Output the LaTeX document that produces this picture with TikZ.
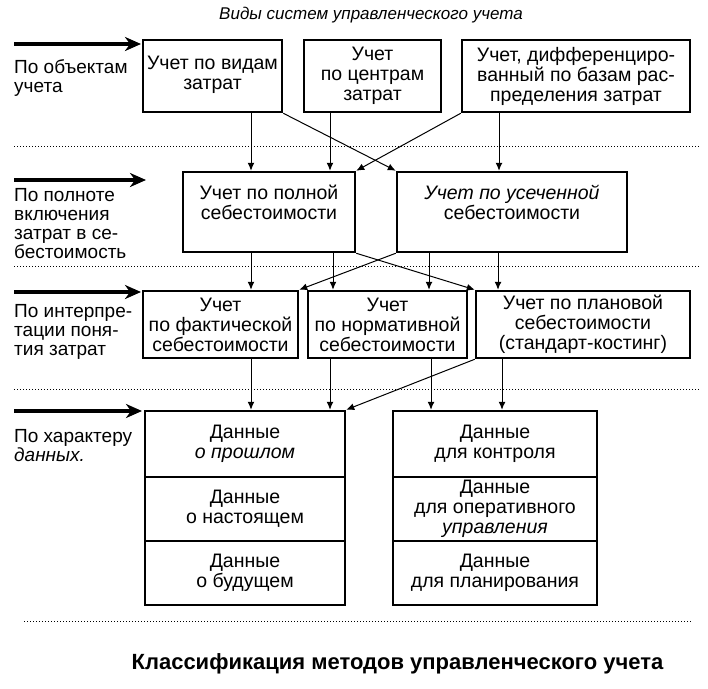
\documentclass[tikz,border=0pt]{standalone}
\usepackage{fontspec}
\setmainfont{Liberation Sans}
\usetikzlibrary{arrows.meta}
\begin{document}
\begin{tikzpicture}[x=1pt,y=-1pt,
  box/.style={draw, line width=2.5pt, align=center, inner sep=0pt,
    font=\fontsize{19.5}{20}\selectfont},
  lbl/.style={align=left, inner sep=0pt, anchor=north west,
    font=\fontsize{19}{19}\selectfont},
  conn/.style={line width=1pt, -{Latex[length=8pt,width=7pt]}},
  bigarrow/.style={line width=3.5pt, -{Stealth[length=16pt,width=14pt,inset=5pt]}},
  sep/.style={line width=1pt, dash pattern=on 1pt off 2pt}]
\useasboundingbox (0,0) rectangle (708,688);

% title
\node[font=\fontsize{17}{20}\selectfont\itshape, inner sep=0pt] (title) at (371,15) {Виды систем управленческого учета};

% row 1
\node[box, minimum width=139pt, minimum height=72pt] (B1) at (212.5,76) {Учет по видам\\затрат\\[-14pt]\mbox{}};
\node[box, minimum width=137pt, minimum height=72pt] (B2) at (372.5,76) {Учет\\по центрам\\затрат};
\node[box, minimum width=228pt, minimum height=72pt] (B3) at (576,76) {Учет, дифференциро-\\ванный по базам рас-\\пределения затрат};

% row 2
\node[box, minimum width=172pt, minimum height=80pt] (C1) at (269,212) {Учет по полной\\себестоимости\\\mbox{}};
\node[box, minimum width=230pt, minimum height=80pt] (C2) at (512,212) {\textit{Учет по усеченной}\\себестоимости\\\mbox{}};

% row 3
\node[box, minimum width=155pt, minimum height=67pt] (D1) at (220.5,324.5) {Учет\\по фактической\\себестоимости};
\node[box, minimum width=159pt, minimum height=67pt] (D2) at (387.5,324.5) {Учет\\по нормативной\\себестоимости};
\node[box, minimum width=214pt, minimum height=67pt] (D3) at (583,324.5) {Учет по плановой\\себестоимости\\(стандарт-костинг)};

% row 4
\node[box, minimum width=200pt, minimum height=66pt] (E1a) at (245,444) {Данные\\\textit{о прошлом}};
\node[box, minimum width=200pt, minimum height=64pt] (E1b) at (245,509) {Данные\\о настоящем};
\node[box, minimum width=200pt, minimum height=64pt] (E1c) at (245,573) {Данные\\о будущем};
\node[box, minimum width=204pt, minimum height=66pt] (E2a) at (495,444) {Данные\\для контроля};
\node[box, minimum width=204pt, minimum height=64pt] (E2b) at (495,509) {Данные\\для оперативного\\\textit{управления}};
\node[box, minimum width=204pt, minimum height=64pt] (E2c) at (495,573) {Данные\\для планирования};

% left labels
\node[lbl] (L1) at (14,59) {По объектам\\учета};
\node[lbl] (L2) at (14,188) {По полноте\\включения\\затрат в се-\\бестоимость};
\node[lbl] (L3) at (14,304) {По интерпре-\\тации поня-\\тия затрат};
\node[lbl] (L4) at (14,429) {По характеру\\\textit{данных.}};

% big arrows
\coordinate (a1) at (14,44);  \coordinate (a1e) at (141,44);
\coordinate (a2) at (14,180); \coordinate (a2e) at (146,180);
\coordinate (a3) at (14,292); \coordinate (a3e) at (141,292);
\coordinate (a4) at (14,411); \coordinate (a4e) at (142,411);
\draw[bigarrow] (a1) -- (a1e);
\draw[bigarrow] (a2) -- (a2e);
\draw[bigarrow] (a3) -- (a3e);
\draw[bigarrow] (a4) -- (a4e);

% dotted separators
\draw[sep] (14,146) -- (700,146);
\draw[sep] (14,266) -- (700,266);
\draw[sep] (14,389) -- (700,389);
\draw[sep] (24,621) -- (692,621);

% x positions
\coordinate (x250) at (251,0);
\coordinate (x330) at (330,0);
\coordinate (x499) at (499,0);
\coordinate (x332) at (333,0);
\coordinate (x428) at (429,0);
\coordinate (x497) at (498,0);
\coordinate (x430) at (431,0);
\coordinate (x502) at (502,0);

% row1 -> row2
\draw[conn] (B1.south -| x250) -- (C1.north -| x250);
\draw[conn] (B2.south -| x330) -- (C1.north -| x330);
\draw[conn] (B3.south -| x499) -- (C2.north -| x499);
\draw[conn] (B1.south east) -- (C2.north west);
\draw[conn] (B3.south west) -- (C1.north east);

% row2 -> row3
\draw[conn] (C1.south -| x250) -- (D1.north -| x250);
\draw[conn] (C1.south -| x332) -- (D2.north -| x332);
\draw[conn] (C2.south -| x428) -- (D2.north -| x428);
\draw[conn] (C2.south -| x497) -- (D3.north -| x497);
\draw[conn] (C1.south east) -- (D3.north west);
\draw[conn] (C2.south west) -- (D1.north east);

% row3 -> row4
\draw[conn] (D1.south -| x250) -- (E1a.north -| x250);
\draw[conn] (D2.south -| x330) -- (E1a.north -| x330);
\draw[conn] (D2.south -| x430) -- (E2a.north -| x430);
\draw[conn] (D3.south -| x502) -- (E2a.north -| x502);
\draw[conn] (D3.south west) -- (E1a.north east);

% caption
\node[font=\fontsize{22}{24}\selectfont\bfseries, inner sep=0pt] (caption) at (397.5,664) {Классификация методов управленческого учета};
\end{tikzpicture}
\end{document}
